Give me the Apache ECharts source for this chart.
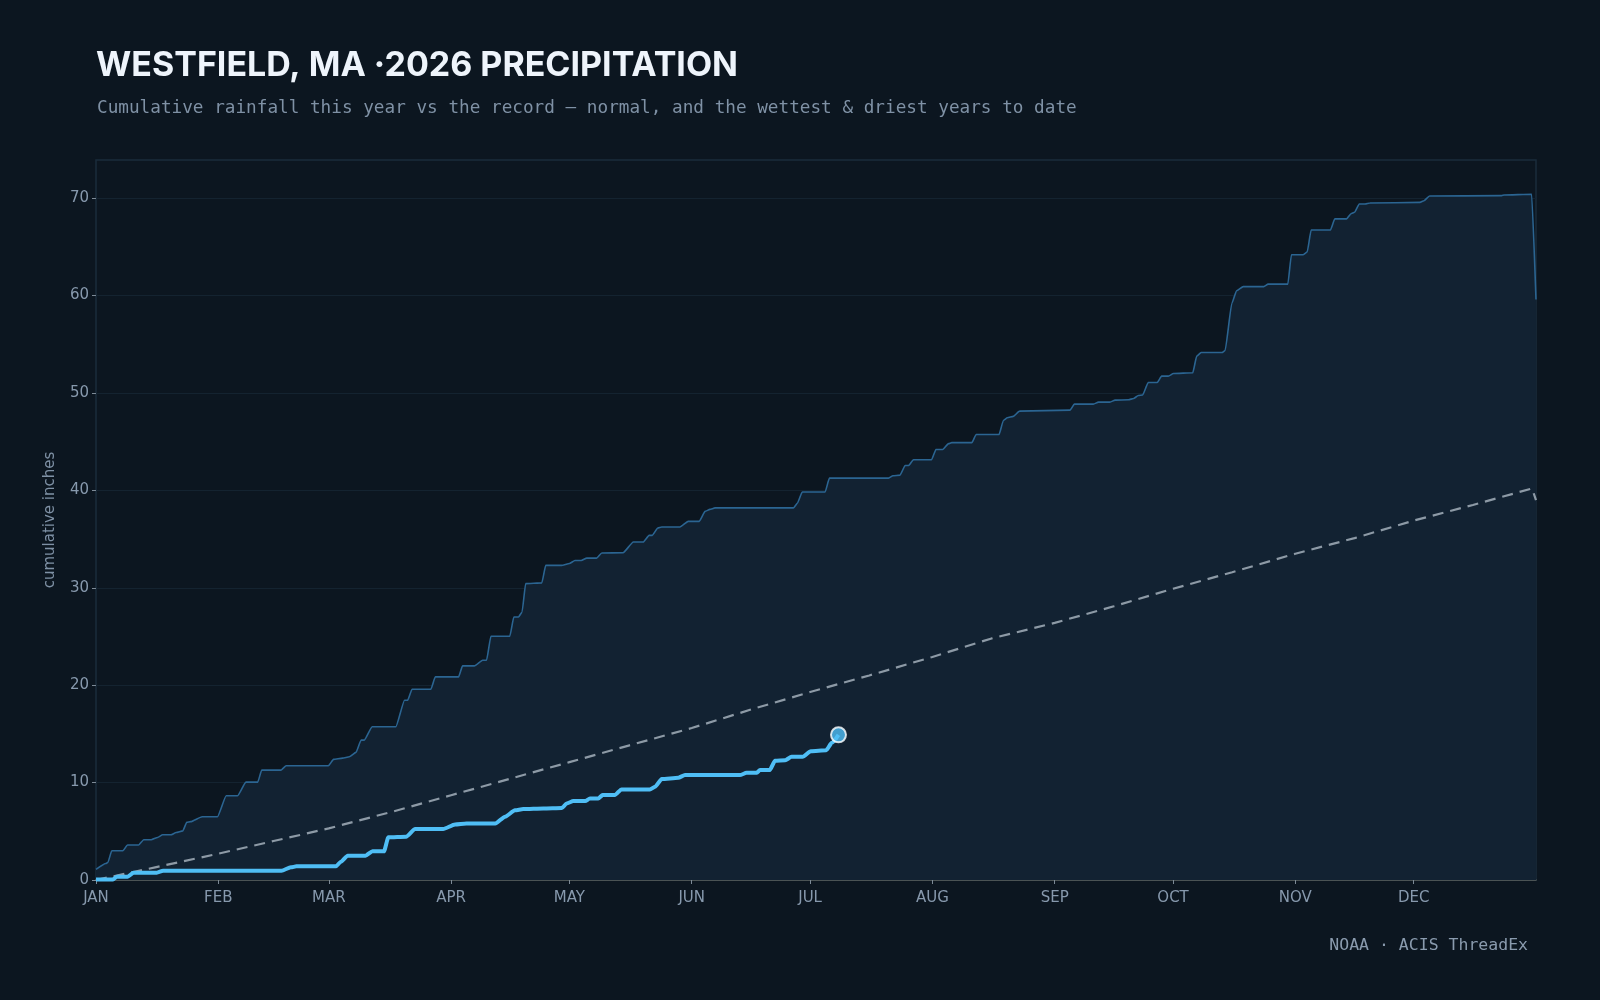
<!DOCTYPE html>
<html>
<head>
<meta charset="utf-8">
<script src="https://cdn.jsdelivr.net/npm/echarts@6/dist/echarts.min.js"></script>
<style>
  html, body { margin: 0; padding: 0; background: #0c1620; }
  #chart { width: 1600px; height: 1000px; }
</style>
</head>
<body>
<div id="chart"></div>
<script>
// month ticks (day of year)
const monthStarts = [0, 31, 59, 90, 120, 151, 181, 212, 243, 273, 304, 334];
const monthLabels = ['JAN', 'FEB', 'MAR', 'APR', 'MAY', 'JUN', 'JUL', 'AUG', 'SEP', 'OCT', 'NOV', 'DEC'];
const yTicks = [0, 10, 20, 30, 40, 50, 60, 70];

// wettest year to date (record), [day, inches]
const recordPts = [
  [0, 1.1], [2.5, 1.7], [3, 1.8], [4, 3.0], [6.8, 3.0], [8, 3.6], [10.8, 3.6], [12.1, 4.14], [14, 4.14],
  [15.6, 4.37], [16.9, 4.64], [19, 4.64], [20.3, 4.87], [22, 5.04], [23, 5.92], [24, 5.99], [26.9, 6.5],
  [30.8, 6.5], [33, 8.65], [35.9, 8.65], [38, 10.05], [41, 10.05], [42, 11.28], [46.9, 11.28], [48.2, 11.73],
  [58.9, 11.73], [60.2, 12.38], [62.5, 12.51], [64.2, 12.65], [65.9, 13.1], [67.2, 14.36], [68, 14.36],
  [70, 15.73], [76, 15.73], [78.2, 18.46], [79, 18.46], [80.1, 19.59], [84.9, 19.59], [86, 20.85],
  [91.9, 20.85], [92.9, 21.98], [95.9, 21.98], [98, 22.56], [99, 22.56], [100.1, 25.03], [104.9, 25.03],
  [105.9, 27.0], [107.1, 27.0], [108, 27.52], [108.9, 30.43], [113, 30.5], [114, 32.3], [118, 32.3],
  [120, 32.5], [121.4, 32.8], [123, 32.8], [124.4, 33.05], [126.9, 33.05], [128.2, 33.57], [133.6, 33.6],
  [136.2, 34.7], [138.7, 34.7], [140.2, 35.38], [141, 35.38], [142.4, 36.14], [143.4, 36.24], [148, 36.24],
  [150.1, 36.82], [152.9, 36.82], [154.4, 37.85], [155.6, 38.05], [156.9, 38.2], [176.8, 38.2], [177.8, 38.7],
  [179, 39.83], [184.8, 39.83], [185.9, 41.26], [200.9, 41.26], [202, 41.5], [203.8, 41.57], [205.1, 42.56],
  [206, 42.56], [207.2, 43.15], [211.8, 43.15], [212.9, 44.2], [214.6, 44.2], [216.1, 44.8], [216.9, 44.9],
  [222, 44.9], [223.1, 45.74], [228.9, 45.74], [230, 47.18], [231, 47.45], [232.5, 47.6], [234.1, 48.14],
  [246.9, 48.24], [248, 48.86], [252.8, 48.86], [254.1, 49.06], [257, 49.06], [258.3, 49.27], [261.7, 49.3],
  [263, 49.44], [264.2, 49.74], [265.3, 49.8], [266.7, 51.08], [269, 51.08], [270.1, 51.73], [271.8, 51.73],
  [273.1, 52.0], [278, 52.07], [279, 53.78], [280.1, 54.15], [285.4, 54.15], [286.2, 54.36], [287.9, 59.2],
  [289.1, 60.5], [290.8, 60.92], [296, 60.92], [297.1, 61.18], [302.1, 61.18], [303, 64.2], [306, 64.2],
  [307, 64.47], [308, 66.73], [312.9, 66.73], [314, 67.88], [317, 67.88], [318.1, 68.4], [319, 68.55],
  [320.2, 69.4], [321.7, 69.4], [322.9, 69.5], [335.6, 69.57], [336.6, 69.74], [338, 70.22], [356.3, 70.26],
  [356.9, 70.33], [363.9, 70.4], [365, 59.6]
];

// normal (average) cumulative, [day, inches]
const normalPts = [
  [0, 0], [15, 1.3], [31, 2.7], [45, 4.0], [59, 5.3], [75, 7.0], [90, 8.7], [105, 10.4], [120, 12.1],
  [135, 13.8], [151, 15.6], [166, 17.5], [181, 19.3], [196, 21.0], [212, 22.9], [227, 24.8], [243, 26.4],
  [258, 28.1], [273, 29.9], [288, 31.6], [304, 33.5], [319, 35.1], [334, 36.9], [349, 38.5], [364, 40.2],
  [365, 39.0]
];

// 2026 so far, [day, inches]
const currentPts = [
  [0, 0.05], [4.3, 0.05], [5.3, 0.34], [8, 0.34], [9.5, 0.75], [15.4, 0.75], [17, 0.95], [47, 0.95],
  [49.4, 1.3], [50.8, 1.4], [60.8, 1.4], [62.1, 1.88], [63.8, 2.5], [68.3, 2.5], [70.1, 2.95], [73, 2.95],
  [74.1, 4.38], [78.6, 4.44], [80.9, 5.23], [88, 5.23], [91, 5.7], [93.9, 5.8], [101.2, 5.8], [103.7, 6.5],
  [106.2, 7.15], [108.3, 7.28], [113.4, 7.35], [118.1, 7.4], [119.3, 7.86], [121, 8.1], [124, 8.1],
  [125.2, 8.37], [127.3, 8.37], [128.4, 8.72], [131.5, 8.72], [133.2, 9.3], [140.4, 9.3], [141.7, 9.57],
  [143.4, 10.36], [147.6, 10.5], [149.3, 10.77], [163.2, 10.77], [164.9, 11.0], [167.5, 11.0], [168.3, 11.3],
  [170.8, 11.3], [172.1, 12.24], [174.7, 12.3], [176.3, 12.65], [179.1, 12.65], [181.2, 13.23], [185.1, 13.33],
  [186.5, 14.08], [188.2, 14.9]
];

const chart = echarts.init(document.getElementById('chart'), null, { renderer: 'canvas' });

const labelColor = '#8799ad';

const option = {
  backgroundColor: '#0c1620',
  animation: false,
  title: [
    {
      text: 'WESTFIELD, MA ·2026 PRECIPITATION',
      left: 91,
      top: 44,
      textStyle: { fontFamily: 'Inter', fontWeight: 700, fontSize: 34, color: '#eef4fb' }
    },
    {
      text: 'Cumulative rainfall this year vs the record — normal, and the wettest & driest years to date',
      left: 92,
      top: 94,
      textStyle: { fontFamily: 'DejaVu Sans Mono', fontWeight: 'normal', fontSize: 17.7, color: '#7f91a5' }
    },
    {
      text: 'NOAA · ACIS ThreadEx',
      right: 67,
      top: 932,
      textStyle: { fontFamily: 'DejaVu Sans Mono', fontWeight: 'normal', fontSize: 16.5, color: '#8a9bae' }
    }
  ],
  grid: {
    left: 96,
    right: 64,
    top: 160,
    bottom: 120,
    show: true,
    borderColor: '#1a2c3b',
    borderWidth: 1.5,
    backgroundColor: 'transparent'
  },
  xAxis: {
    type: 'value',
    min: 0,
    max: 365,
    axisLine: { show: true, lineStyle: { color: '#5e6460', width: 1.5 } },
    axisTick: { show: true, length: 4, customValues: monthStarts, lineStyle: { color: '#7d8a96' } },
    axisLabel: {
      customValues: monthStarts,
      margin: 11,
      color: labelColor,
      fontFamily: 'DejaVu Sans',
      fontSize: 15,
      formatter: (v) => monthLabels[monthStarts.indexOf(v)]
    },
    splitLine: { show: false }
  },
  yAxis: {
    type: 'value',
    min: 0,
    max: 73.92,
    name: 'cumulative inches',
    nameLocation: 'middle',
    nameGap: 38,
    nameRotate: 90,
    nameTextStyle: { color: '#7f91a5', fontFamily: 'DejaVu Sans', fontSize: 15 },
    axisLine: { show: false },
    axisTick: { show: true, length: 4, customValues: yTicks, lineStyle: { color: '#7d8a96' } },
    axisLabel: {
      customValues: yTicks,
      margin: 7,
      color: labelColor,
      fontFamily: 'DejaVu Sans',
      fontSize: 15
    },
    splitLine: { show: true, lineStyle: { color: '#142330', width: 1 } }
  },
  series: [
    {
      name: 'Record',
      type: 'line',
      data: recordPts,
      showSymbol: false,
      smooth: 0.15,
      smoothMonotone: 'x',
      lineStyle: { color: '#2b6592', width: 1.6 },
      areaStyle: { color: '#122232', opacity: 1, origin: 'start' },
      z: 1
    },
    {
      name: 'Normal',
      type: 'line',
      data: normalPts,
      showSymbol: false,
      lineStyle: { color: '#8d9aa6', width: 2.2, type: [11, 7] },
      z: 2
    },
    {
      name: '2026',
      type: 'line',
      data: currentPts,
      showSymbol: false,
      smooth: 0.2,
      smoothMonotone: 'x',
      lineStyle: { color: '#4fbef5', width: 4 },
      z: 3
    },
    {
      name: 'Today',
      type: 'scatter',
      data: [currentPts[currentPts.length - 1]],
      symbol: 'circle',
      symbolSize: 15,
      itemStyle: { color: '#4fbef5', borderColor: '#ffffff', borderWidth: 2 },
      z: 4
    }
  ]
};

chart.setOption(option);
</script>
</body>
</html>
